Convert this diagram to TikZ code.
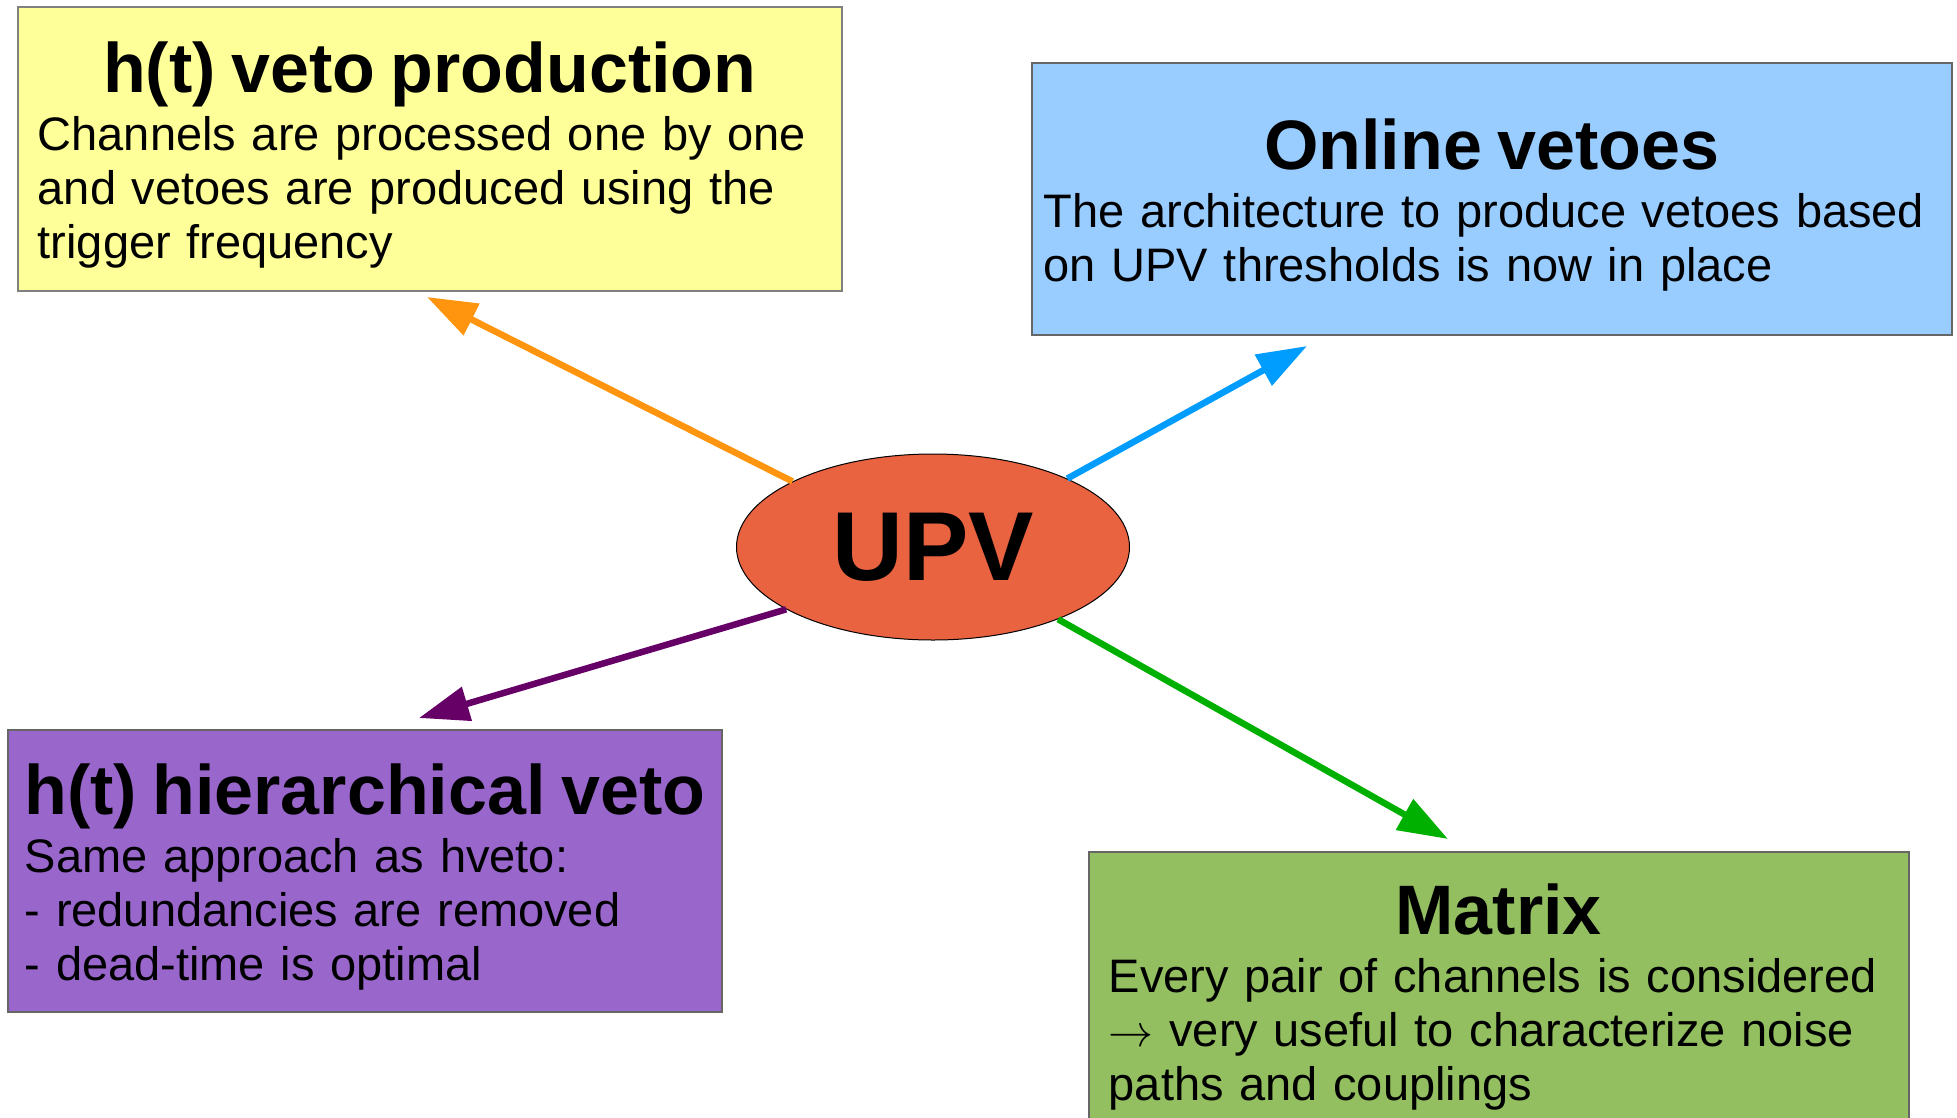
\documentclass[tikz,border=0pt]{standalone}
\usepackage{graphicx}
\usepackage{fontspec}
\setmainfont{Liberation Sans}
\usetikzlibrary{arrows.meta,shapes.geometric}

\definecolor{prodyellow}{HTML}{FFFF99}
\definecolor{onlineblue}{HTML}{99CCFF}
\definecolor{hierpurple}{HTML}{9966CC}
\definecolor{matrixgreen}{HTML}{93BF60}
\definecolor{upvred}{HTML}{E96340}
\definecolor{arroworange}{HTML}{FF950E}
\definecolor{arrowblue}{HTML}{009DFF}
\definecolor{arrowpurple}{HTML}{660066}
\definecolor{arrowgreen}{HTML}{00B000}

\hyphenpenalty=10000
\newcommand{\boxtitle}[1]{\makebox[\hsize]{\rule{0pt}{64pt}\fontsize{70}{72}\selectfont\bfseries #1}}
\newcommand{\bigarrow}{{\fontsize{10}{12}\selectfont\scalebox{4.5}{$\rightarrow$}}}

\begin{document}
\begin{tikzpicture}[x=1pt,y=-1pt,
  infobox/.style={draw=black!60, line width=1.5pt, inner sep=0pt, anchor=north west,
    align=left, font=\fontsize{47}{54}\selectfont},
  link/.style={line width=6.5pt, -{Triangle[length=50pt,width=34pt]}}]

% Page frame
\useasboundingbox (0,0) rectangle (1957,1117);
\clip (0,0) rectangle (1957,1117);

% Central ellipse
\node[ellipse, draw=black, line width=1pt, fill=upvred, inner sep=0pt,
  minimum width=393pt, minimum height=186pt,
  font=\fontsize{98}{100}\selectfont\bfseries] (upv) at (933,547) {UPV};

% Boxes
\node[infobox, fill=prodyellow, draw=black!50, minimum width=824pt, minimum height=284pt,
  text width=784pt] (prod) at (17,6) {\boxtitle{h(t) veto production}\\[4pt]
Channels are processed one by one\\
and vetoes are produced using the\\
trigger frequency};

\node[infobox, fill=onlineblue, minimum width=920pt, minimum height=272pt,
  text width=896pt] (online) at (1031,62) {\boxtitle{Online vetoes}\\[4pt]
The architecture to produce vetoes based\\
on UPV thresholds is now in place};

\node[infobox, fill=hierpurple, minimum width=714pt, minimum height=282pt,
  text width=680pt] (hier) at (7,729) {\boxtitle{h(t) hierarchical veto}\\[4pt]
Same approach as hveto:\\
- redundancies are removed\\
- dead-time is optimal};

\node[infobox, fill=matrixgreen, minimum width=820pt, minimum height=278pt,
  text width=780pt] (matrix) at (1088,851) {\boxtitle{Matrix}\\[4pt]
Every pair of channels is considered\\
\bigarrow{} very useful to characterize noise\\
paths and couplings};

% Arrow tips
\coordinate (prodtip) at (427,297);
\coordinate (onlinetip) at (1307,346);
\coordinate (hiertip) at (419,718);
\coordinate (matrixtip) at (1448,839);

% Arrows from UPV
\draw[link, color=arroworange] (upv.155.8) -- (prodtip);
\draw[link, color=arrowblue] (upv.27.2) -- (onlinetip);
\draw[link, color=arrowpurple] (upv.203.2) -- (hiertip);
\draw[link, color=arrowgreen] (upv.330.2) -- (matrixtip);

\end{tikzpicture}
\end{document}
